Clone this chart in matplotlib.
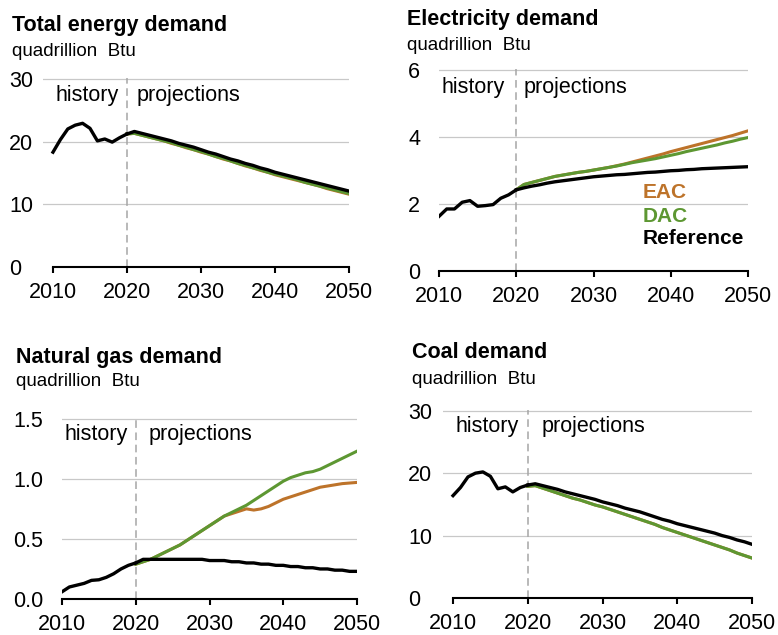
import matplotlib
matplotlib.use("Agg")
import matplotlib.pyplot as plt
import numpy as np

plt.rcParams['font.family'] = ['Liberation Sans', 'DejaVu Sans']

hist_years = np.arange(2010, 2021)
proj_years = np.arange(2020, 2051)

# total energy demand, quadrillion Btu
total_hist = [18.3, 20.3, 22.0, 22.6, 22.9, 22.1, 20.1, 20.4, 19.9, 20.6, 21.2]
total_ref = [21.2, 21.6, 21.3, 21.0, 20.7, 20.4, 20.1, 19.7, 19.4, 19.1, 18.7,
             18.3, 18.0, 17.6, 17.2, 16.9, 16.5, 16.2, 15.8, 15.5, 15.1,
             14.8, 14.5, 14.2, 13.9, 13.6, 13.3, 13.0, 12.7, 12.4, 12.1]
total_dac = [21.2, 21.3, 21.0, 20.7, 20.4, 20.1, 19.8, 19.4, 19.1, 18.7, 18.4,
             18.0, 17.6, 17.3, 16.9, 16.5, 16.2, 15.8, 15.5, 15.1, 14.8,
             14.5, 14.2, 13.9, 13.5, 13.2, 12.9, 12.6, 12.3, 12.0, 11.7]
total_eac = [21.2, 21.3, 21.0, 20.7, 20.4, 20.1, 19.7, 19.4, 19.0, 18.7, 18.3,
             18.0, 17.6, 17.2, 16.9, 16.5, 16.1, 15.8, 15.4, 15.1, 14.7,
             14.4, 14.1, 13.8, 13.5, 13.2, 12.9, 12.5, 12.2, 11.9, 11.6]

# electricity demand
elec_hist = [1.63, 1.85, 1.85, 2.05, 2.10, 1.93, 1.95, 1.98, 2.17, 2.27, 2.42]
elec_ref = [2.42, 2.48, 2.53, 2.57, 2.62, 2.66, 2.69, 2.72, 2.75, 2.78, 2.81,
            2.83, 2.85, 2.87, 2.88, 2.90, 2.92, 2.94, 2.95, 2.97, 2.99,
            3.00, 3.02, 3.03, 3.05, 3.06, 3.07, 3.08, 3.09, 3.10, 3.11]
elec_dac = [2.42, 2.58, 2.64, 2.70, 2.76, 2.82, 2.86, 2.90, 2.94, 2.97, 3.01,
            3.05, 3.09, 3.13, 3.18, 3.23, 3.27, 3.31, 3.35, 3.40, 3.45,
            3.50, 3.56, 3.61, 3.66, 3.71, 3.76, 3.82, 3.87, 3.93, 3.98]
elec_eac = [2.42, 2.58, 2.64, 2.70, 2.76, 2.82, 2.86, 2.90, 2.94, 2.97, 3.01,
            3.05, 3.09, 3.14, 3.19, 3.25, 3.31, 3.37, 3.43, 3.49, 3.56,
            3.62, 3.68, 3.74, 3.80, 3.86, 3.92, 3.98, 4.04, 4.11, 4.18]

# natural gas demand
gas_hist = [0.06, 0.10, 0.115, 0.13, 0.155, 0.16, 0.18, 0.21, 0.25, 0.28, 0.30]
gas_ref = [0.30, 0.33, 0.33, 0.33, 0.33, 0.33, 0.33, 0.33, 0.33, 0.33, 0.32,
           0.32, 0.32, 0.31, 0.31, 0.30, 0.30, 0.29, 0.29, 0.28, 0.28,
           0.27, 0.27, 0.26, 0.26, 0.25, 0.25, 0.24, 0.24, 0.23, 0.23]
gas_dac = [0.29, 0.31, 0.33, 0.36, 0.39, 0.42, 0.45, 0.49, 0.53, 0.57, 0.61,
           0.65, 0.69, 0.72, 0.75, 0.78, 0.82, 0.86, 0.90, 0.94, 0.98,
           1.01, 1.03, 1.05, 1.06, 1.08, 1.11, 1.14, 1.17, 1.20, 1.23]
gas_eac = [0.29, 0.31, 0.33, 0.36, 0.39, 0.42, 0.45, 0.49, 0.53, 0.57, 0.61,
           0.65, 0.69, 0.71, 0.73, 0.75, 0.74, 0.75, 0.77, 0.80, 0.83,
           0.85, 0.87, 0.89, 0.91, 0.93, 0.94, 0.95, 0.96, 0.965, 0.97]

# coal demand
coal_hist = [16.4, 17.7, 19.4, 20.0, 20.2, 19.5, 17.5, 17.8, 17.0, 17.7, 18.1]
coal_ref = [18.1, 18.3, 18.0, 17.7, 17.4, 17.0, 16.7, 16.4, 16.1, 15.8, 15.4,
            15.1, 14.8, 14.4, 14.1, 13.8, 13.4, 13.0, 12.6, 12.3, 11.9,
            11.6, 11.3, 11.0, 10.7, 10.4, 10.0, 9.7, 9.3, 9.0, 8.6]
coal_dac = [17.9, 18.0, 17.6, 17.2, 16.8, 16.4, 16.0, 15.7, 15.3, 14.9, 14.6,
            14.2, 13.8, 13.4, 13.0, 12.6, 12.2, 11.8, 11.3, 10.9, 10.5,
            10.1, 9.7, 9.3, 8.9, 8.5, 8.1, 7.7, 7.2, 6.8, 6.4]
coal_eac = [17.9, 18.0, 17.6, 17.2, 16.8, 16.4, 16.0, 15.7, 15.3, 14.9, 14.6,
            14.2, 13.8, 13.4, 13.0, 12.6, 12.2, 11.8, 11.3, 10.9, 10.5,
            10.1, 9.7, 9.3, 8.9, 8.5, 8.1, 7.7, 7.2, 6.8, 6.4]

xticks = [2010, 2020, 2030, 2040, 2050]

ORANGE = '#BD732A'
GREEN = '#5D9732'
W, H = 778, 635

fig = plt.figure(figsize=(W / 100, H / 100), dpi=100)


def px_rect(left, right, bottom, top):
    return [left / W, 1 - bottom / H, (right - left) / W, (bottom - top) / H]


def panel(rect, x0, ymax, yticks, fmt, ypad, hist, ref, dac, eac,
          title, tx, ty, sy, proj_off):
    ax = fig.add_axes(px_rect(*rect))
    ax.plot(proj_years, eac, color=ORANGE, lw=2.2, zorder=3)
    ax.plot(proj_years, dac, color=GREEN, lw=2.2, zorder=4)
    ax.plot(hist_years, hist, color='black', lw=2.4, zorder=5)
    ax.plot(proj_years, ref, color='black', lw=2.4, zorder=5)
    ax.axvline(2020, color='#A6A6A6', lw=1.1, ls=(0, (5, 3)), zorder=2)

    ax.set_xlim(x0, 2050)
    ax.set_ylim(0, ymax * 1.004)
    ax.set_xticks(xticks)
    ax.set_yticks(yticks)
    ax.set_yticklabels([fmt.format(v) for v in yticks])
    for lab in ax.get_yticklabels():
        lab.set_horizontalalignment('left')
    for v in yticks[1:]:
        ax.axhline(v, color='#C8C8C8', lw=0.9, zorder=1)

    for s in ['top', 'right', 'left']:
        ax.spines[s].set_visible(False)
    ax.spines['bottom'].set_bounds(2010, 2050)
    ax.spines['bottom'].set_linewidth(1.5)
    ax.tick_params(axis='x', direction='out', length=4, width=1.5,
                   pad=6.5, labelsize=15.5)
    ax.tick_params(axis='y', length=0, pad=ypad, labelsize=15.5)

    ax.text(2010.3, 0.91, 'history', transform=ax.get_xaxis_transform(),
            fontsize=15.5, va='center', ha='left')
    ax.annotate('projections', xy=(2020, 0.91),
                xycoords=ax.get_xaxis_transform(),
                xytext=(proj_off, 0), textcoords='offset points',
                fontsize=15.5, va='center', ha='left')

    fig.text(tx / W, 1 - ty / H, title, fontsize=15.5, fontweight='bold',
             va='center', ha='left')
    fig.text(tx / W, 1 - sy / H, 'quadrillion  Btu', fontsize=13.5,
             va='center', ha='left')
    return ax


panel((43, 349, 267, 78), 2008.65, 30, [0, 10, 20, 30], '{:.0f}', 24.5,
      total_hist, total_ref, total_dac, total_eac,
      'Total energy demand', 12, 26, 51, 7)
ax2 = panel((439, 748, 271, 69), 2010, 6, [0, 2, 4, 6], '{:.0f}', 22.3,
            elec_hist, elec_ref, elec_dac, elec_eac,
            'Electricity demand', 407, 20, 46, 5)
panel((62, 357, 599, 418), 2010, 1.5, [0.0, 0.5, 1.0, 1.5], '{:.1f}', 35.3,
      gas_hist, gas_ref, gas_dac, gas_eac,
      'Natural gas demand', 16, 358, 382, 9)
panel((443, 752, 598, 410), 2008.66, 30, [0, 10, 20, 30], '{:.0f}', 25.2,
      coal_hist, coal_ref, coal_dac, coal_eac,
      'Coal demand', 412, 353, 380, 10)

# scenario labels in the electricity panel
for label, col, yy in [('EAC', ORANGE, 0.39), ('DAC', GREEN, 0.27),
                       ('Reference', 'black', 0.163)]:
    ax2.text(0.66, yy, label, transform=ax2.transAxes, color=col,
             fontsize=15, fontweight='bold', va='center', ha='left')

fig.savefig('out.png', dpi=100)
